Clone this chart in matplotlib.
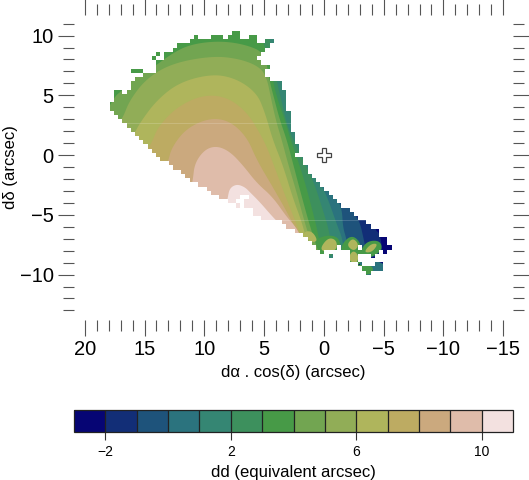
import matplotlib
matplotlib.use('Agg')
import matplotlib.pyplot as plt
from matplotlib.colors import BoundaryNorm, ListedColormap
from matplotlib.colorbar import ColorbarBase
from matplotlib.path import Path
from matplotlib.patches import PathPatch

plt.rcParams['font.family'] = ['Liberation Sans', 'DejaVu Sans']

levels = list(range(-3, 12))
cbar_ticks = [-2, 2, 6, 10]
x_major = [20, 15, 10, 5, 0, -5, -10, -15]
y_major = [10, 5, 0, -5, -10]
x_minor = list(range(-15, 21))
y_minor = list(range(-13, 12))
star_x, star_y = [0.0], [0.0]

# grid of the map, cells of 0.352 arcsec
cell = 0.352
grid_x0 = 17.91
grid_y0 = 10.04

# row of cells, first and last+1 column of every run of valid cells
row = [-1, 0, 0, 0, 0, 1, 1, 2, 3, 4, 4, 5, 5, 6, 7, 8, 8, 9, 10, 11, 12, 13, 13, 14, 15, 16, 17,
       18, 19, 20, 21, 22, 23, 24, 25, 26, 27, 28, 29, 30, 31, 32, 33, 34, 35, 36, 37, 38, 38,
       39, 39, 40, 40, 41, 42, 43, 44, 45, 46, 47, 48, 49, 50, 50, 50, 51, 51, 51, 52, 52, 52,
       53, 54, 54, 55, 56]
col_a = [29, 20, 24, 28, 33, 19, 37, 16, 15, 11, 13, 10, 13, 11, 11, 5, 11, 8, 6, 5, 5, 1, 4, 1, 1, 0, 0,
         1, 2, 3, 4, 5, 6, 7, 8, 9, 10, 11, 12, 14, 15, 17, 18, 19, 21, 23, 24, 26, 33,
         28, 32, 30, 32, 34, 34, 36, 41, 42, 44, 46, 47, 48, 49, 55, 60, 50, 57, 65, 52, 57, 62,
         57, 59, 63, 60, 61]
col_b = [31, 21, 27, 31, 35, 35, 39, 38, 37, 12, 36, 11, 35, 36, 38, 8, 37, 37, 38, 41, 41, 3, 42, 42, 42, 42, 42,
         43, 43, 43, 43, 43, 44, 44, 44, 45, 45, 44, 46, 46, 47, 47, 48, 49, 50, 51, 52, 31, 53,
         30, 54, 31, 55, 57, 58, 59, 61, 62, 64, 64, 66, 66, 54, 59, 67, 51, 64, 66, 53, 59, 63,
         59, 60, 65, 65, 62]

# contours of dd, arcsec. curve runs from top/left over to the bottom
c_m2_x = [-3.01, -3.85, -4.27, -4.69, -4.94]
c_m2_y = [11.30, -3.77, -6.28, -6.53, -8.37]
c_m1_x = [-0.50, -1.76, -2.59, -3.01, -3.35, -3.60]
c_m1_y = [11.30, -2.93, -5.02, -5.61, -7.11, -8.37]
c_0_x = [2.01, 0.50, -0.08, -0.92, -1.51, -1.59, -1.92, -2.01]
c_0_y = [11.30, 0.42, -2.34, -3.35, -4.44, -6.03, -7.11, -8.37]
c_1_x = [3.68, 2.43, 1.51, 0.84, -0.08, -1.17, -1.51, -1.76]
c_1_y = [11.30, 4.60, -0.84, -1.67, -2.93, -6.03, -6.86, -8.37]
c_2_x = [4.85, 4.35, 3.93, 3.52, 3.01, 2.34, 1.42, 0.84, 0.08, -0.50, -0.67]
c_2_y = [11.30, 8.79, 6.11, 4.44, 2.26, 0.84, -1.09, -2.26, -4.60, -6.53, -8.37]
c_3_x = [5.52, 5.11, 4.52, 4.19, 3.85, 3.26, 2.85, 2.18, 1.51, 0.75, 0.50, 0.17]
c_3_y = [11.30, 9.46, 7.95, 5.86, 4.60, 2.93, 1.51, -0.42, -2.51, -5.44, -6.53, -8.37]
c_4_x = [19.17, 17.58, 16.82, 16.66, 16.24, 14.81, 12.30, 10.63, 8.45, 6.44, 4.94, 4.52, 4.19, 3.68, 3.10, 2.59, 1.93, 1.17, 0.50]
c_4_y = [1.67, 4.85, 5.44, 5.86, 6.28, 6.95, 8.79, 9.37, 9.54, 9.21, 8.54, 6.11, 4.85, 2.93, 1.26, -0.67, -3.18, -5.94, -7.95]
c_5_x = [17.49, 16.82, 16.24, 14.81, 12.64, 9.29, 7.03, 5.36, 4.77, 4.44, 4.02, 3.52, 3.01, 2.26, 1.59, 1.00]
c_5_y = [2.26, 3.10, 4.60, 6.44, 7.70, 8.30, 8.05, 7.38, 6.44, 4.85, 2.93, 1.26, -0.67, -3.18, -5.69, -7.53]
c_6_x = [16.41, 15.82, 15.40, 13.98, 12.05, 9.29, 7.28, 5.61, 4.94, 4.27, 3.43, 2.59, 1.84, 1.34]
c_6_y = [1.26, 1.84, 2.68, 4.60, 6.11, 6.80, 6.38, 5.19, 3.60, 1.26, -0.84, -3.60, -5.61, -7.53]
c_7_x = [14.98, 14.40, 13.89, 12.30, 10.13, 8.12, 6.44, 5.36, 4.77, 4.19, 3.35, 2.43, 1.76]
c_7_y = [0.25, 1.00, 2.34, 4.02, 5.04, 4.87, 3.60, 1.84, 0.67, -0.84, -3.10, -5.44, -7.11]
c_8_x = [13.56, 13.06, 12.72, 11.47, 9.54, 7.87, 6.44, 5.61, 4.27, 2.85, 2.01]
c_8_y = [-1.67, -0.67, 0.67, 2.26, 3.11, 2.86, 1.51, -0.42, -2.68, -5.19, -6.95]
c_9_x = [11.22, 10.96, 10.80, 9.96, 8.96, 7.87, 6.78, 5.61, 4.27, 3.10, 2.26, 1.59]
c_9_y = [-3.35, -2.09, -0.67, 0.47, 0.77, 0.30, -0.84, -2.34, -3.52, -5.19, -6.11, -7.53]
c_10_x = [8.20, 8.04, 7.87, 7.28, 6.61, 6.19, 5.36, 4.27, 3.43, 2.85, 2.68]
c_10_y = [-4.60, -3.52, -2.76, -2.43, -2.68, -3.10, -3.93, -5.19, -6.03, -6.70, -7.95]

# local lumps at the south-east end
lump_a_x = [1.20, 0.17, -1.12, -1.46, -1.12, 0.87]
lump_a_y = [-7.53, -6.75, -6.75, -7.62, -8.32, -8.32]
lump_b_x = [-1.47, -2.34, -3.13, -3.21, -2.18, -1.47]
lump_b_y = [-7.45, -6.66, -7.37, -9.16, -9.32, -8.37]
lump_c_x = [-3.06, -3.68, -4.72, -4.89, -4.02, -3.15]
lump_c_y = [-7.95, -7.17, -7.17, -7.95, -8.57, -8.57]
isle_teal_x = [-3.0, -5.2, -5.2, -3.0]
isle_teal_y = [-8.9, -8.9, -10.4, -10.4]
isle_green_x = [-2.8, -4.1, -4.1, -2.8]
isle_green_y = [-9.2, -9.2, -10.0, -10.0]
top_a_x = [0.37, -0.33, -1.04, -1.12, -0.33]
top_a_y = [-7.89, -6.91, -7.08, -7.89, -8.15]
top_b1_x = [-1.89, -2.43, -2.96, -2.51]
top_b1_y = [-7.53, -6.91, -7.53, -8.07]
top_b2_x = [-1.98, -2.43, -2.96, -2.68]
top_b2_y = [-8.72, -7.92, -8.45, -9.16]
top_c_x = [-3.32, -3.93, -4.55, -4.02]
top_c_y = [-8.14, -7.42, -7.42, -8.14]
top_d_x = [1.79, 1.00, 0.47, 1.17]
top_d_y = [-6.43, -6.33, -7.21, -7.31]
seam_y = [2.68, -5.44]

n_bands = len(levels) - 1
colors = [plt.cm.gist_earth((i + 0.5) / n_bands) for i in range(n_bands)]

fig = plt.figure(figsize=(5.29, 4.8), dpi=100)
ax = fig.add_axes([74 / 529, 1 - 320 / 480, 439 / 529, 305 / 480])

# valid cells, everything in the map is clipped to them
verts, codes = [], []
for r, a, b in zip(row, col_a, col_b):
    x0, x1 = grid_x0 - a * cell, grid_x0 - b * cell
    y0, y1 = grid_y0 - r * cell, grid_y0 - (r + 1) * cell
    verts += [(x0, y0), (x1, y0), (x1, y1), (x0, y1), (x0, y0)]
    codes += [Path.MOVETO, Path.LINETO, Path.LINETO, Path.LINETO, Path.CLOSEPOLY]
cells = PathPatch(Path(verts, codes), transform=ax.transData, fc='none', ec='none')
ax.add_patch(cells)


def rounded(pts, closed, passes=3):
    # corner cutting, only rounds the drawn outline
    for _ in range(passes):
        out = [pts[0]] if not closed else []
        last = len(pts) if closed else len(pts) - 1
        for i in range(last):
            p, q = pts[i], pts[(i + 1) % len(pts)]
            out.append((0.75 * p[0] + 0.25 * q[0], 0.75 * p[1] + 0.25 * q[1]))
            out.append((0.25 * p[0] + 0.75 * q[0], 0.25 * p[1] + 0.75 * q[1]))
        if not closed:
            out.append(pts[-1])
        pts = out
    return pts


def band(xs, ys, level, closing=None):
    if closing is None:
        pts = rounded(list(zip(xs, ys)), True)
    else:
        pts = rounded(list(zip(xs, ys)), False) + closing
    p = ax.fill([c[0] for c in pts], [c[1] for c in pts], color=colors[level + 3], lw=0, zorder=2)[0]
    p.set_clip_path(cells)


# value -3 everywhere first, then each level on top
band([25, -20, -20, 25], [15, 15, -15, -15], -3, [])
far_left = [(25, -15), (25, 15)]
far_below = [(8, -13)]
band(c_m2_x, c_m2_y, -2, far_left)
band(c_m1_x, c_m1_y, -1, far_left)
band(c_0_x, c_0_y, 0, far_left)
band(c_1_x, c_1_y, 1, far_left)
band(c_2_x, c_2_y, 2, far_left)
band(c_3_x, c_3_y, 3, far_left)
band(isle_teal_x, isle_teal_y, 0, [])
band(lump_a_x, lump_a_y, 3)
band(lump_b_x, lump_b_y, 3)
band(lump_c_x, lump_c_y, 3)
band(isle_green_x, isle_green_y, 3, [])
band(c_4_x, c_4_y, 4, far_below)
band(c_5_x, c_5_y, 5, far_below)
band(c_6_x, c_6_y, 6, far_below)
band(c_7_x, c_7_y, 7, far_below)
band(c_8_x, c_8_y, 8, far_below)
band(c_9_x, c_9_y, 9, far_below)
band(c_10_x, c_10_y, 10, far_below)
band(top_a_x, top_a_y, 6)
band(top_b1_x, top_b1_y, 6)
band(top_b2_x, top_b2_y, 6)
band(top_c_x, top_c_y, 6)
band(top_d_x, top_d_y, 6)

for s in seam_y:
    line = ax.axhline(s, color='white', lw=0.6, alpha=0.2, zorder=3)
    line.set_clip_path(cells)

ax.plot(star_x, star_y, marker='P', ms=9.5, mfc='white', mec='#444444', mew=0.9, ls='none', zorder=5)

ax.set_xlim(20.9, -15.82)
ax.set_ylim(-13.8, 11.72)
for s in ax.spines.values():
    s.set_visible(False)
ax.set_xticks(x_major)
ax.set_yticks(y_major)
ax.set_xticks(x_minor, minor=True)
ax.set_yticks(y_minor, minor=True)
ax.tick_params(which='major', length=11.5, width=0.8, color='#555555', top=True, right=True,
               labelsize=14.5, pad=3)
ax.tick_params(which='minor', length=7.8, width=0.8, color='#555555', top=True, right=True)
ax.set_xlabel('dα . cos(δ) (arcsec)', fontsize=12, labelpad=4)
ax.set_ylabel('dδ (arcsec)', fontsize=12, labelpad=1)

cax = fig.add_axes([74 / 529, 1 - 432 / 480, 439 / 529, 22 / 480])
cb = ColorbarBase(cax, cmap=ListedColormap(colors), norm=BoundaryNorm(levels, n_bands),
                  orientation='horizontal', ticks=cbar_ticks, drawedges=True, spacing='proportional')
cb.dividers.set_color('#222222')
cb.dividers.set_linewidth(0.9)
cb.outline.set_edgecolor('#222222')
cb.outline.set_linewidth(0.9)
cax.minorticks_off()
cax.tick_params(which='major', length=6, width=0.8, color='#333333', labelsize=10, pad=3)
cb.set_label('dd (equivalent arcsec)', fontsize=12, labelpad=5)

plt.savefig('out.png', dpi=100)
